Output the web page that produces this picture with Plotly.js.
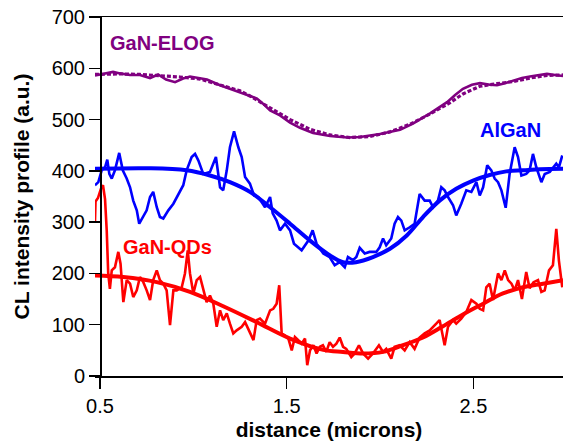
<!DOCTYPE html>
<html>
<head>
<meta charset="utf-8">
<script src="https://cdn.plot.ly/plotly-3.0.1.min.js"></script>
<style>
html,body{margin:0;padding:0;background:#fff;}
#chart{width:563px;height:441px;}
</style>
</head>
<body>
<div id="chart"></div>
<script>
// ---- GaN-ELOG (purple) ----
const elogX = [0.473,0.500,0.537,0.570,0.607,0.661,0.714,0.768,0.811,0.854,0.902,0.945,0.982,1.036,1.073,1.143,1.250,1.341,1.373,1.411,1.464,1.518,1.571,1.641,1.732,1.823,1.893,2.000,2.107,2.176,2.268,2.359,2.402,2.444,2.492,2.535,2.589,2.626,2.669,2.712,2.760,2.803,2.857,2.894,2.937,2.980];
const elogY = [586,588,591,593,590,587,587,581,588,578,573,580,584,580,578,567,553,541,531,518,508,494,484,474,468,465,466,472,480,492,512,534,548,560,568,571,568,567,571,576,581,584,587,589,587,585];
const elogFitX = [0.473,0.607,0.714,0.821,0.928,1.036,1.143,1.250,1.303,1.373,1.437,1.518,1.625,1.732,1.839,1.946,2.053,2.161,2.268,2.375,2.444,2.535,2.626,2.712,2.803,2.894,2.980];
const elogFitY = [588,589,588,586,583,579,568,556,546,531,517,500,481,470,465,467,476,491,511,533,550,565,570,574,581,586,587];

// ---- AlGaN (blue) ----
const alganX = [0.473,0.491,0.509,0.527,0.539,0.550,0.563,0.580,0.603,0.622,0.643,0.661,0.678,0.697,0.710,0.732,0.750,0.768,0.785,0.804,0.821,0.839,0.866,0.893,0.919,0.946,0.964,0.991,1.009,1.027,1.053,1.089,1.121,1.143,1.160,1.179,1.196,1.218,1.241,1.259,1.277,1.303,1.325,1.348,1.384,1.411,1.425,1.446,1.464,1.491,1.518,1.539,1.580,1.616,1.639,1.660,1.696,1.730,1.757,1.784,1.811,1.828,1.855,1.873,1.891,1.918,1.944,1.980,1.998,2.016,2.033,2.060,2.078,2.096,2.114,2.132,2.159,2.185,2.212,2.239,2.266,2.284,2.310,2.328,2.346,2.364,2.391,2.408,2.435,2.462,2.489,2.516,2.534,2.552,2.574,2.596,2.614,2.632,2.650,2.673,2.694,2.721,2.739,2.757,2.783,2.801,2.819,2.837,2.864,2.882,2.909,2.944,2.958,2.976];
const alganY = [372,378,401,407,422,394,385,401,435,401,385,368,342,323,297,310,323,349,359,329,310,307,323,336,355,372,401,427,433,420,394,398,427,368,362,401,446,477,446,427,388,375,352,349,329,349,317,303,284,297,284,258,245,264,284,258,239,232,216,222,212,232,226,232,250,239,242,242,251,268,255,268,297,310,303,284,290,297,355,342,342,329,342,368,362,349,333,313,336,362,359,378,352,368,411,401,385,378,362,328,394,446,427,391,394,401,433,407,378,394,398,414,407,430];
const alganFitX = [0.473,0.768,0.964,1.089,1.196,1.303,1.411,1.518,1.625,1.732,1.802,1.871,1.962,2.053,2.143,2.230,2.319,2.408,2.498,2.587,2.676,2.766,2.857,2.980];
const alganFitY = [404,405,401,391,378,359,329,297,264,235,222,222,232,248,274,310,342,365,381,392,399,401,403,404];

// ---- GaN-QDs (red) ----
const qdX = [0.473,0.476,0.489,0.505,0.516,0.527,0.536,0.544,0.553,0.563,0.580,0.598,0.610,0.625,0.643,0.661,0.678,0.697,0.714,0.732,0.750,0.768,0.785,0.804,0.821,0.839,0.857,0.875,0.893,0.911,0.938,0.955,0.970,0.982,1.000,1.018,1.036,1.053,1.071,1.089,1.107,1.125,1.143,1.160,1.179,1.196,1.214,1.232,1.259,1.277,1.295,1.322,1.339,1.357,1.384,1.411,1.428,1.446,1.460,1.473,1.491,1.509,1.527,1.544,1.562,1.580,1.598,1.610,1.625,1.643,1.660,1.678,1.694,1.712,1.730,1.748,1.766,1.784,1.802,1.819,1.846,1.864,1.887,1.909,1.936,1.962,1.994,2.016,2.033,2.060,2.078,2.105,2.132,2.159,2.185,2.212,2.239,2.266,2.301,2.319,2.346,2.364,2.391,2.408,2.435,2.462,2.489,2.516,2.534,2.552,2.569,2.587,2.605,2.632,2.650,2.668,2.686,2.704,2.721,2.739,2.760,2.783,2.801,2.822,2.846,2.864,2.882,2.905,2.926,2.944,2.958,2.976];
const qdY = [300,340,347,365,372,345,284,200,170,206,212,242,219,144,187,180,154,167,193,183,167,148,187,206,187,180,167,99,167,167,173,200,245,200,161,187,193,167,144,157,141,96,128,109,122,102,83,89,96,105,92,70,109,112,102,128,131,141,177,83,79,73,50,76,70,63,73,21,50,60,44,57,60,47,66,57,63,75,57,53,37,44,60,44,34,44,60,47,53,34,57,60,50,66,53,75,83,89,102,109,60,96,109,102,112,125,148,141,131,128,173,180,148,200,187,206,187,180,167,187,150,203,171,183,187,164,167,206,216,287,225,173];
const qdFitX = [0.473,0.625,0.804,0.982,1.160,1.339,1.518,1.696,1.802,1.909,2.016,2.123,2.230,2.337,2.444,2.552,2.658,2.766,2.873,2.980];
const qdFitY = [196,193,183,164,136,105,73,51,47,44,47,60,75,97,120,141,161,173,180,187];

// ---- axis ticks and labels ----
const xTickVals = [0.5,1.5,2.5];
const xTickText = ['0.5','1.5','2.5'];
const yTickVals = [0,100,200,300,400,500,600,700];
const yTickText = ['0','100','200','300','400','500','600','700'];
const seriesLabels = ['GaN-ELOG','AlGaN','GaN-QDs'];
const labelX = [0.546,2.528,0.619];
const labelY = [650,479,252];

const PURPLE = '#800080', BLUE = '#0000ff', RED = '#ff0000';
const FONT = 'Liberation Sans, Arial, Helvetica, sans-serif';

const traces = [
  {x: elogFitX, y: elogFitY, mode:'lines', line:{color:PURPLE, width:3.2, dash:'4px,2px'}},
  {x: elogX, y: elogY, mode:'lines', line:{color:PURPLE, width:2.6}},
  {x: alganX, y: alganY, mode:'lines', line:{color:BLUE, width:2.6}},
  {x: alganFitX, y: alganFitY, mode:'lines', line:{color:BLUE, width:4, shape:'spline'}},
  {x: qdX, y: qdY, mode:'lines', line:{color:RED, width:2.6}},
  {x: qdFitX, y: qdFitY, mode:'lines', line:{color:RED, width:4, shape:'spline'}}
];

const colors = [PURPLE, BLUE, RED];
const annotations = seriesLabels.map((t,i)=>({
  text: t, x: labelX[i], y: labelY[i], xref:'x', yref:'y',
  xanchor:'left', yanchor:'middle', showarrow:false, borderpad:0,
  font:{family:FONT, size:20, color:colors[i], weight:'bold'}
}));

const layout = {
  width:563, height:441,
  margin:{l:95, r:0, t:17, b:65},
  paper_bgcolor:'#fff', plot_bgcolor:'rgba(0,0,0,0)',
  showlegend:false,
  font:{family:FONT, color:'#000'},
  xaxis:{
    range:[0.47322, 2.97991], domain:[0,1],
    tickvals:xTickVals, ticktext:xTickText,
    ticks:'outside', ticklen:11, tickwidth:1.5, tickcolor:'#000',
    showline:true, linecolor:'#000', linewidth:1.5, mirror:true,
    showgrid:false, zeroline:false,
    tickfont:{family:FONT, size:20, color:'#000'},
    title:{text:'distance (microns)', font:{family:FONT, size:21, color:'#000', weight:'bold'}, standoff:7}
  },
  yaxis:{
    range:[0,700], anchor:'free', position:5/468,
    tickvals:yTickVals, ticktext:yTickText,
    ticks:'outside', ticklen:11, tickwidth:1.5, tickcolor:'#000',
    showline:true, linecolor:'#000', linewidth:1.5,
    showgrid:false, zeroline:false,
    tickfont:{family:FONT, size:20, color:'#000'},
    title:{text:'CL intensity profile (a.u.)', font:{family:FONT, size:21, color:'#000', weight:'bold'}, standoff:15}
  },
  annotations: annotations
};

Plotly.newPlot('chart', traces, layout, {staticPlot:true, displayModeBar:false});
</script>
</body>
</html>
